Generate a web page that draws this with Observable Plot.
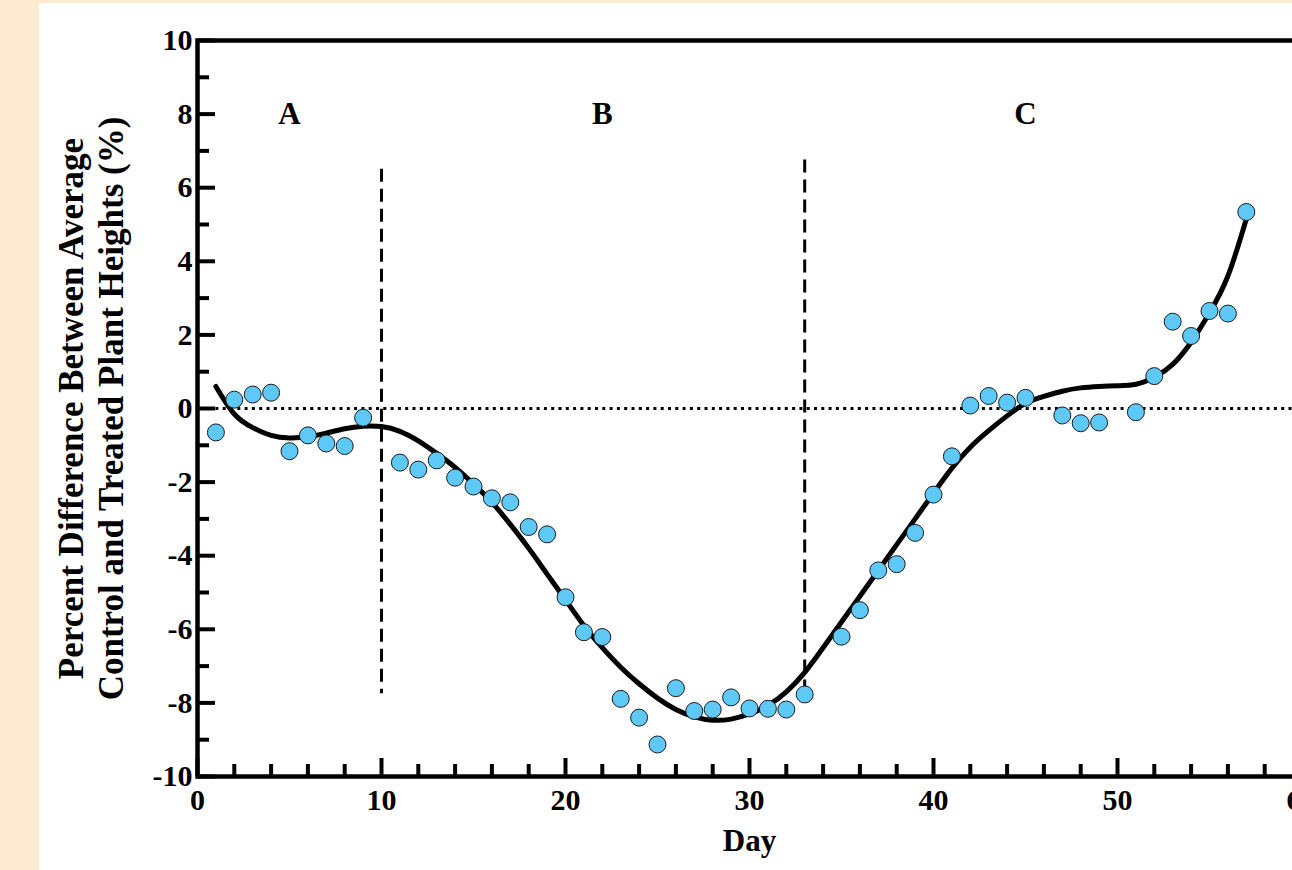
<!DOCTYPE html>
<html>
<head>
<meta charset="utf-8">
<script src="https://cdn.jsdelivr.net/npm/d3@7"></script>
<script src="https://cdn.jsdelivr.net/npm/@observablehq/plot@0.6"></script>
<style>
  html, body { margin: 0; padding: 0; width: 1292px; height: 870px; overflow: hidden; background: #fcebd1; }
  #chart { position: absolute; left: 39px; top: 3px; width: 1302px; height: 867px; background: #ffffff; }
  #chart svg { max-width: none; background: #ffffff; }
</style>
</head>
<body>
<div id="chart"></div>
<script>
// ---- data ----
const pointDays = [1,2,3,4,5,6,7,8,9,11,12,13,14,15,16,17,18,19,20,21,22,23,24,25,26,27,28,29,30,31,32,33,35,36,37,38,39,40,41,42,43,44,45,47,48,49,51,52,53,54,55,56,57];
const pointValues = [-0.65,0.24,0.38,0.43,-1.16,-0.73,-0.95,-1.02,-0.25,
  -1.47,-1.66,-1.41,-1.88,-2.12,-2.44,-2.55,-3.22,-3.42,-5.13,-6.08,-6.21,-7.89,-8.4,-9.13,-7.6,-8.22,-8.18,-7.85,-8.15,-8.16,-8.18,-7.77,
  -6.2,-5.48,-4.4,-4.23,-3.38,-2.34,-1.3,0.08,0.34,0.16,0.29,
  -0.19,-0.4,-0.38,
  -0.1,0.88,2.36,1.97,2.65,2.58,5.34];
const fitDays = d3.range(1, 58);
const fitValues = [0.6,-0.15,-0.52,-0.73,-0.8,-0.77,-0.67,-0.55,-0.48,-0.49,
  -0.62,-0.88,-1.22,-1.6,-2.05,-2.55,-3.15,-3.8,-4.5,-5.2,
  -5.9,-6.5,-7.03,-7.48,-7.87,-8.18,-8.38,-8.47,-8.44,-8.3,
  -8.07,-7.7,-7.17,-6.5,-5.8,-5.1,-4.4,-3.7,-3.0,-2.3,
  -1.62,-1.05,-0.6,-0.2,0.14,0.33,0.47,0.56,0.6,0.62,
  0.66,0.85,1.2,1.8,2.6,3.6,5.15];
const phaseNames = ["A", "B", "C"];
const phaseDays = [5, 22, 45];
const phaseLevel = [8, 8, 8];
const boundaryDays = [10, 33];
const boundaryTop = [6.5, 6.75];
const boundaryBottom = [-7.75, -7.75];
const xMajorTicks = [0, 10, 20, 30, 40, 50, 60];
const xTickLabels = ["0", "10", "20", "30", "40", "50", "60"];
const xMinorTicks = [2,4,6,8,12,14,16,18,22,24,26,28,32,34,36,38,42,44,46,48,52,54,56,58];
const yMajorTicks = [-10, -8, -6, -4, -2, 0, 2, 4, 6, 8, 10];
const yTickLabels = ["-10", "-8", "-6", "-4", "-2", "0", "2", "4", "6", "8", "10"];
const yMinorTicks = [-9, -7, -5, -3, -1, 1, 3, 5, 7, 9];
const yLabelLines = ["Percent Difference Between Average", "Control and Treated Plant Heights (%)"];
const xLabel = "Day";

// ---- tables built from the arrays ----
const points = pointDays.map((d, i) => ({day: d, value: pointValues[i]}));
const fit = fitDays.map((d, i) => ({day: d, value: fitValues[i]}));
const phases = phaseNames.map((n, i) => ({name: n, day: phaseDays[i], level: phaseLevel[i]}));
const boundaries = boundaryDays.map((d, i) => ({day: d, top: boundaryTop[i], bottom: boundaryBottom[i]}));

const font = "'Liberation Serif', 'Times New Roman', serif";

const chart = Plot.plot({
  width: 1302,
  height: 867,
  marginLeft: 158,
  marginTop: 37,
  marginRight: 40,
  marginBottom: 94,
  style: {fontFamily: font, background: "#ffffff", maxWidth: "none", color: "#000"},
  x: {domain: [0, 60]},
  y: {domain: [-10, 10]},
  marks: [
    Plot.ruleY([0], {x1: 1, x2: 60, stroke: "#000", strokeWidth: 3, strokeDasharray: "3,4.3"}),
    Plot.ruleX(boundaries, {x: "day", y1: "top", y2: "bottom", stroke: "#000", strokeWidth: 3, strokeDasharray: "13,7"}),
    Plot.line(fit, {x: "day", y: "value", curve: "natural", stroke: "#000", strokeWidth: 5}),
    Plot.dot(points, {x: "day", y: "value", r: 8.5, fill: "#5ec8f6", stroke: "#1b1b1b", strokeWidth: 1}),
    Plot.text(phases, {x: "day", y: "level", text: "name", fontSize: 31, fontWeight: "bold", fill: "#000"}),
    Plot.frame({stroke: "#000", strokeWidth: 4.5}),
    Plot.axisY(yMajorTicks, {tickSize: -18, fill: "none", strokeWidth: 4, label: null}),
    Plot.axisY(yMinorTicks, {tickSize: -12, fill: "none", strokeWidth: 4, label: null}),
    Plot.axisY(yMajorTicks, {tickSize: 0, tickPadding: 5, fontSize: 30, fontWeight: "bold", fill: "#000",
      tickFormat: (d) => yTickLabels[yMajorTicks.indexOf(d)], label: null}),
    Plot.axisX(xMajorTicks, {tickSize: -18, fill: "none", strokeWidth: 4, label: null}),
    Plot.axisX(xMinorTicks, {tickSize: -12, fill: "none", strokeWidth: 4, label: null}),
    Plot.axisX(xMajorTicks, {tickSize: 0, tickPadding: 12, fontSize: 30, fontWeight: "bold", fill: "#000",
      tickFormat: (d) => xTickLabels[xMajorTicks.indexOf(d)], label: null}),
    Plot.text([yLabelLines[0]], {frameAnchor: "left", textAnchor: "middle", rotate: -90, dx: -126, fontSize: 35, fontWeight: "bold", fill: "#000"}),
    Plot.text([yLabelLines[1]], {frameAnchor: "left", textAnchor: "middle", rotate: -90, dx: -86, fontSize: 35, fontWeight: "bold", fill: "#000"}),
    Plot.text([xLabel], {frameAnchor: "bottom", dy: 74, fontSize: 31, fontWeight: "bold", fill: "#000"})
  ]
});
document.getElementById("chart").appendChild(chart);
</script>
</body>
</html>
